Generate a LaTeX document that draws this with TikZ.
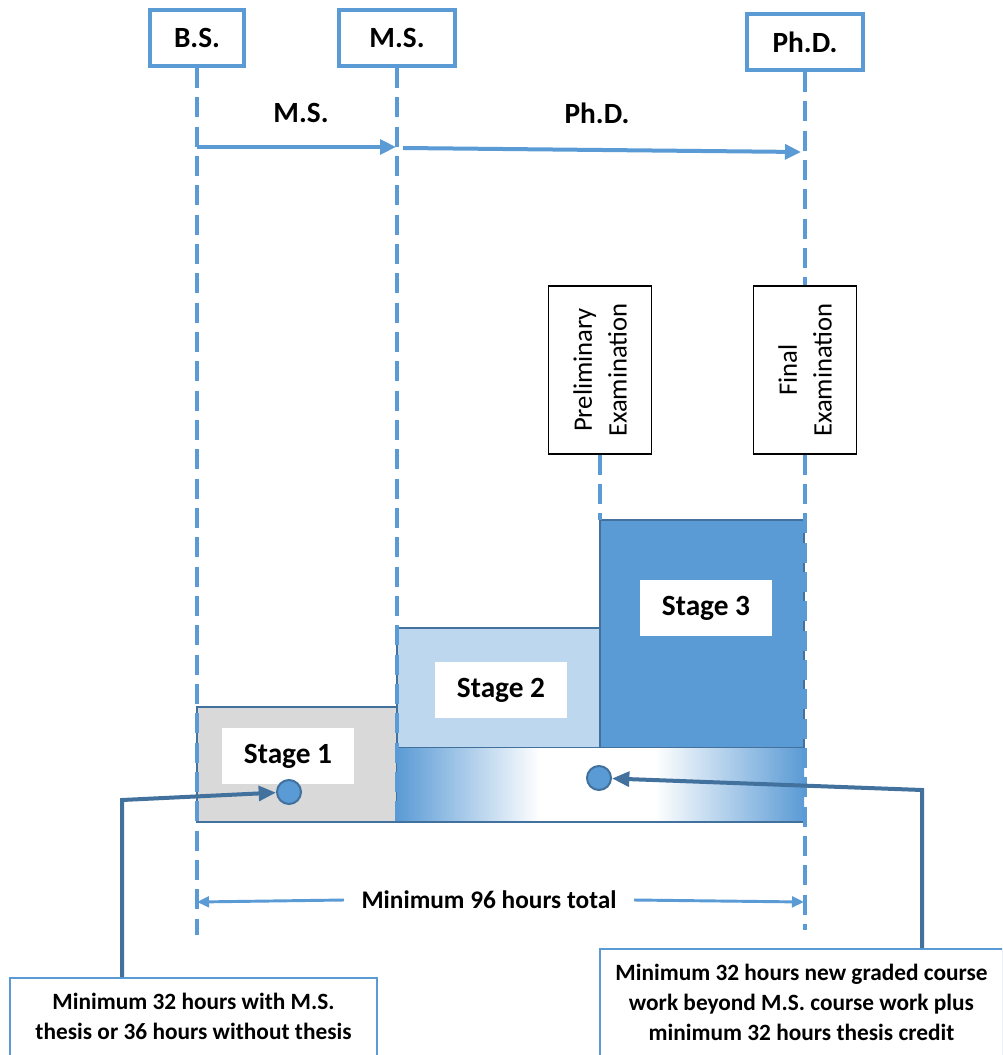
\documentclass[tikz,border=0pt]{standalone}
\usepackage{fontspec}
\setmainfont{Carlito}
\usetikzlibrary{arrows.meta}
\definecolor{lineblue}{HTML}{5B9BD5}
\definecolor{darkblue}{HTML}{41719C}
\definecolor{paleblue}{HTML}{BDD7EE}
\definecolor{stagegray}{HTML}{D9D9D9}
\begin{document}
\begin{tikzpicture}[x=0.75pt,y=-0.75pt,
  degreebox/.style={draw=lineblue,line width=3pt,fill=white,minimum height=42pt,inner sep=0pt,font=\fontsize{22}{26}\selectfont\bfseries},
  guide/.style={draw=lineblue,line width=3pt,dash pattern=on 15pt off 7pt},
  track/.style={draw=lineblue,line width=3pt,-{Triangle[length=12pt,width=11pt]}},
  trackname/.style={font=\fontsize{22}{26}\selectfont\bfseries},
  exambox/.style={draw,line width=1.2pt,fill=white,rotate=90,minimum width=126pt,minimum height=77pt,align=center,font=\fontsize{20}{26}\selectfont},
  stagebox/.style={draw=darkblue,line width=1.5pt},
  stagetag/.style={fill=white,minimum width=99pt,minimum height=42pt,inner sep=0pt,font=\fontsize{22}{26}\selectfont\bfseries},
  stagedot/.style={circle,draw=darkblue,line width=1.5pt,fill=lineblue,minimum size=18pt,inner sep=0pt},
  callout/.style={draw=darkblue,line width=3pt,-{Triangle[length=13pt,width=11pt]}},
  notebox/.style={draw=lineblue,line width=1.5pt,fill=white,anchor=north,inner sep=0pt},
  notetext/.style={align=center,anchor=north,inner sep=0pt,font=\fontsize{17.5}{22.5}\selectfont\bfseries},
  spanarrow/.style={draw=lineblue,line width=2.2pt,-{Triangle[length=9pt,width=8pt]}}
]
\clip (0,0) rectangle (1002,1055);
\fill[white] (0,0) rectangle (1002,1055);

\node[degreebox,minimum width=70pt] (bs) at (197,38) {B.S.};
\node[degreebox,minimum width=87pt] (ms) at (397,38) {M.S.};
\node[degreebox,minimum width=87pt] (phd) at (805,42) {Ph.D.};

\coordinate (a1) at (197,147);
\coordinate (a2) at (396,147);
\coordinate (a3) at (403,148);
\coordinate (a4) at (801,152);
\draw[track] (a1) -- (a2);
\draw[track] (a3) -- (a4);
\node[trackname] (msname) at (301,113) {M.S.};
\node[trackname] (phdname) at (597,113) {Ph.D.};

\filldraw[stagebox,fill=stagegray] (197,707) rectangle (397,822);
\filldraw[stagebox,fill=paleblue] (397,628) rectangle (600,748);
\filldraw[stagebox,fill=lineblue] (600,520) rectangle (804,748);
\shade[left color=lineblue,right color=white] (397,748) rectangle (540,822);
\fill[white] (540,748) rectangle (655,822);
\shade[left color=white,right color=lineblue] (655,748) rectangle (804,822);
\draw[darkblue,line width=1.5pt] (397,822) -- (804,822);

\node[exambox] (prelim) at (600,370) {Preliminary\\Examination};
\node[exambox] (final) at (805,370) {Final\\Examination};

\coordinate (bsend) at (197,935);
\coordinate (msend) at (397,822);
\coordinate (phdend) at (805,930);
\coordinate (s3top) at (600,520);
\draw[guide] (bs) -- (bsend);
\draw[guide] (ms) -- (msend);
\draw[guide] (phd) -- (final);
\draw[guide] (final) -- (phdend);
\draw[guide] (prelim) -- (s3top);

\node[stagetag] (stage1) at (288,756) {Stage 1};
\node[stagetag] (stage2) at (501,690) {Stage 2};
\node[stagetag] (stage3) at (706,608) {Stage 3};
\node[stagedot] (dot1) at (289,792) {};
\node[stagedot] (dot2) at (599,778) {};

\coordinate (dimL) at (197,902);
\coordinate (dimR) at (804,902);
\node[inner xsep=13pt,font=\fontsize{19}{23}\selectfont\bfseries] (total) at (489,900) {Minimum 96 hours total};
\draw[spanarrow] (total.west) -- (dimL);
\draw[spanarrow] (total.east) -- (dimR);

\node[notebox,minimum width=275pt,minimum height=80pt] (note1) at (193.5,977) {};
\node[notetext] (text1) at ([yshift=-12pt]note1.north) {Minimum 32 hours with M.S.\\thesis or 36 hours without thesis};
\node[notebox,minimum width=302pt,minimum height=90pt] (note2) at (801.5,948) {};
\node[notetext] (text2) at ([yshift=-12pt]note2.north) {Minimum 32 hours new graded course\\work beyond M.S. course work plus\\minimum 32 hours thesis credit};

\coordinate (bend1) at (122,800);
\coordinate (bend2) at (922,790);
\draw[callout] (note1.north -| bend1) -- (bend1) -- (dot1);
\draw[callout] (note2.north -| bend2) -- (bend2) -- (dot2);
\end{tikzpicture}
\end{document}
